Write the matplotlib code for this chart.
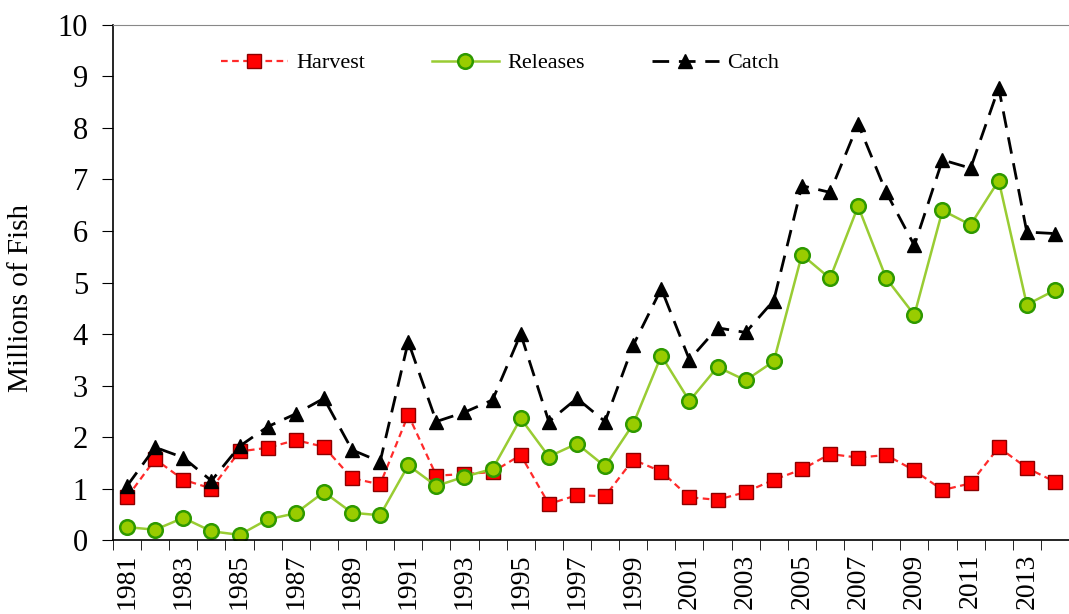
import matplotlib
matplotlib.use('Agg')
import matplotlib.pyplot as plt
import numpy as np

plt.rcParams['font.family'] = ['Liberation Serif', 'DejaVu Serif']

years = list(range(1981, 2015))
harvest = [0.83, 1.57, 1.17, 1.00, 1.72, 1.79, 1.94, 1.81, 1.20, 1.08,
           2.43, 1.25, 1.28, 1.32, 1.65, 0.70, 0.87, 0.85, 1.56, 1.33,
           0.83, 0.78, 0.93, 1.17, 1.37, 1.67, 1.60, 1.65, 1.35, 0.97,
           1.10, 1.80, 1.40, 1.13]
releases = [0.25, 0.20, 0.43, 0.17, 0.10, 0.40, 0.52, 0.93, 0.53, 0.48,
            1.45, 1.05, 1.23, 1.38, 2.36, 1.62, 1.87, 1.43, 2.25, 3.58,
            2.70, 3.36, 3.10, 3.47, 5.54, 5.08, 6.48, 5.08, 4.37, 6.40,
            6.12, 6.98, 4.57, 4.85]
catch = [1.05, 1.80, 1.60, 1.15, 1.82, 2.20, 2.45, 2.75, 1.75, 1.52,
         3.85, 2.30, 2.48, 2.72, 4.00, 2.30, 2.75, 2.30, 3.78, 4.88,
         3.50, 4.12, 4.03, 4.65, 6.88, 6.75, 8.08, 6.75, 5.72, 7.38,
         7.22, 8.78, 5.98, 5.95]

fig = plt.figure(figsize=(10.69, 6.14), dpi=100)
ax = fig.add_axes([0.1057, 0.1205, 0.8943, 0.8388])

ax.plot(years, harvest, color='#ff2a2a', linestyle=(0, (3, 2)), linewidth=1.6,
        marker='s', markersize=10.5, markerfacecolor='#ff0000',
        markeredgecolor='#8b0000', markeredgewidth=1.0, label='Harvest')
ax.plot(years, releases, color='#99cc33', linestyle='-', linewidth=1.8,
        marker='o', markersize=10.5, markerfacecolor='#99cc00',
        markeredgecolor='#2e9900', markeredgewidth=1.8, label='Releases')
ax.plot(years, catch, color='black', linestyle=(0, (6, 3.5)), linewidth=2.0,
        marker='^', markersize=10.5, markerfacecolor='black',
        markeredgecolor='black', label='Catch')

ax.set_xlim(1980.5, 2014.46)
ax.set_ylim(0, 10)
ax.set_yticks(range(0, 11))
ax.tick_params(axis='y', direction='out', length=8, labelsize=22, pad=10)

ax.set_xticks(years[::2])
ax.set_xticklabels([str(y) for y in years[::2]], rotation=90)
ax.set_xticks(np.arange(1980.5, 2015, 1.0), minor=True)
ax.tick_params(axis='x', which='major', length=0, labelsize=20, pad=10)
ax.tick_params(axis='x', which='minor', direction='out', length=7)

ax.spines['right'].set_visible(False)
ax.spines['top'].set_color('#888888')
ax.spines['left'].set_linewidth(1.2)
ax.spines['bottom'].set_linewidth(1.2)

ax.set_ylabel('Millions of Fish', fontsize=21)
ax.yaxis.set_label_coords(-0.083, 0.47)

ax.legend(loc='center', bbox_to_anchor=(0.405, 0.926), ncol=3, frameon=False,
          fontsize=16, handlelength=3.0, columnspacing=3.0, handletextpad=0.4)

fig.savefig('out.png', dpi=100)
